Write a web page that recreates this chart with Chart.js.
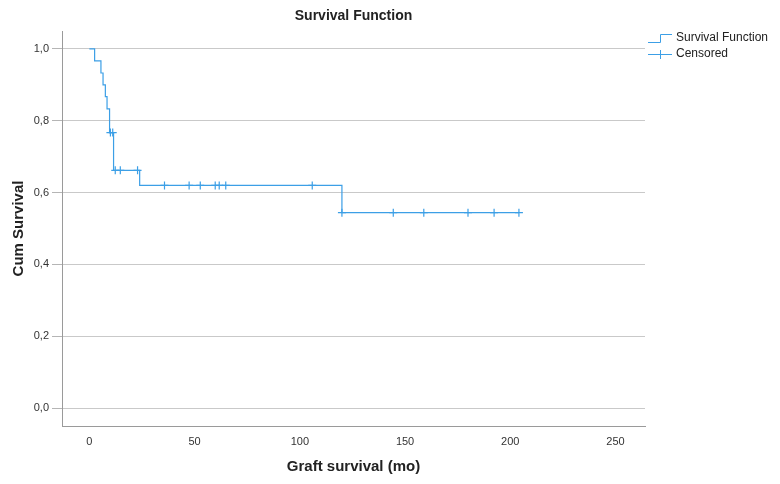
<!DOCTYPE html>
<html lang="en">
<head>
  <meta charset="UTF-8">
  <title>Survival Function</title>
  <script src="https://cdn.jsdelivr.net/npm/chart.js"></script>
  <style>
    html, body { margin: 0; padding: 0; background: #fff; }
    #wrap { width: 780px; height: 484px; }
  </style>
</head>
<body>
  <div id="wrap"><canvas id="km"></canvas></div>

  <script>
    // Kaplan-Meier step function (time in months, cumulative survival)
    const stepTimes = [0, 2.5, 5.5, 6.5, 7.6, 8.4, 9.6, 11.5, 23.9, 120, 204];
    const stepSurv  = [1, 0.967, 0.933, 0.9, 0.867, 0.833, 0.767, 0.662, 0.620, 0.544, 0.544];

    // Censored observations
    const censorTimes = [10.0, 11.1, 12.3, 14.7, 22.9, 35.7, 47.4, 52.7, 59.8, 61.7, 64.8, 105.9, 120, 144.4, 158.9, 179.9, 192.3, 204.1];
    const censorSurv  = [0.767, 0.767, 0.662, 0.662, 0.662, 0.620, 0.620, 0.620, 0.620, 0.620, 0.620, 0.620, 0.544, 0.544, 0.544, 0.544, 0.544, 0.544];

    const xTicks = [0, 50, 100, 150, 200, 250];
    const yTicks = [0, 0.2, 0.4, 0.6, 0.8, 1.0];

    const blue = '#3c9fe6';
    const textCol = '#222';
    const fam = '"Liberation Sans", Arial, sans-serif';

    // title, x-axis title and legend drawn by hand
    const extras = {
      id: 'extras',
      afterDraw(chart) {
        const ctx = chart.ctx;
        const a = chart.chartArea;
        ctx.save();
        ctx.fillStyle = textCol;
        ctx.textAlign = 'center';
        ctx.textBaseline = 'middle';
        ctx.font = 'bold 14px ' + fam;
        ctx.fillText('Survival Function', (a.left + a.right) / 2, 16);
        ctx.font = 'bold 15px ' + fam;
        ctx.fillText('Graft survival (mo)', (a.left + a.right) / 2, 467);

        // legend
        ctx.font = '12px ' + fam;
        ctx.textAlign = 'left';
        ctx.fillText('Survival Function', 676, 38);
        ctx.fillText('Censored', 676, 54);

        ctx.strokeStyle = blue;
        ctx.lineWidth = 1;
        ctx.beginPath();
        ctx.moveTo(648, 42.5);
        ctx.lineTo(660.5, 42.5);
        ctx.lineTo(660.5, 34.5);
        ctx.lineTo(672, 34.5);
        ctx.stroke();

        ctx.beginPath();
        ctx.moveTo(648, 54.5);
        ctx.lineTo(672, 54.5);
        ctx.moveTo(660.5, 50);
        ctx.lineTo(660.5, 59);
        ctx.stroke();
        ctx.restore();
      }
    };

    new Chart(document.getElementById('km'), {
      type: 'line',
      data: {
        datasets: [
          {
            label: 'Survival Function',
            data: stepTimes.map((t, i) => ({ x: t, y: stepSurv[i] })),
            stepped: 'before',
            borderColor: blue,
            borderWidth: 1.2,
            pointRadius: 0,
            fill: false
          },
          {
            label: 'Censored',
            data: censorTimes.map((t, i) => ({ x: t, y: censorSurv[i] })),
            showLine: false,
            pointStyle: 'cross',
            pointRadius: 4,
            borderColor: blue,
            borderWidth: 1.2
          }
        ]
      },
      options: {
        responsive: true,
        maintainAspectRatio: false,
        animation: false,
        devicePixelRatio: 1,
        layout: { padding: { top: 31, right: 135, left: 0, bottom: 0 } },
        plugins: {
          legend: { display: false },
          tooltip: { enabled: false }
        },
        scales: {
          x: {
            type: 'linear',
            min: -13,
            max: 264,
            afterBuildTicks: s => { s.ticks = xTicks.map(v => ({ value: v })); },
            afterFit: s => { s.height = 58; },
            grid: { display: false, drawTicks: false },
            border: { display: true, color: '#9a9a9a', width: 1 },
            ticks: {
              padding: 9,
              color: '#333',
              font: { size: 11, family: fam }
            },
            title: { display: false }
          },
          y: {
            type: 'linear',
            min: -0.05,
            max: 1.05,
            afterBuildTicks: s => { s.ticks = yTicks.map(v => ({ value: v })); },
            afterFit: s => { s.width = 62; },
            grid: { color: '#c9c9c9', lineWidth: 1, tickLength: 10, tickColor: '#b5b5b5' },
            border: { display: true, color: '#9a9a9a', width: 1 },
            ticks: {
              padding: 3,
              color: '#333',
              font: { size: 11, family: fam },
              callback: v => v.toFixed(1).replace('.', ',')
            },
            title: {
              display: true,
              text: 'Cum Survival',
              color: textCol,
              padding: { top: 10 },
              font: { size: 15, weight: 'bold', family: fam }
            }
          }
        }
      },
      plugins: [extras]
    });
  </script>
</body>
</html>
